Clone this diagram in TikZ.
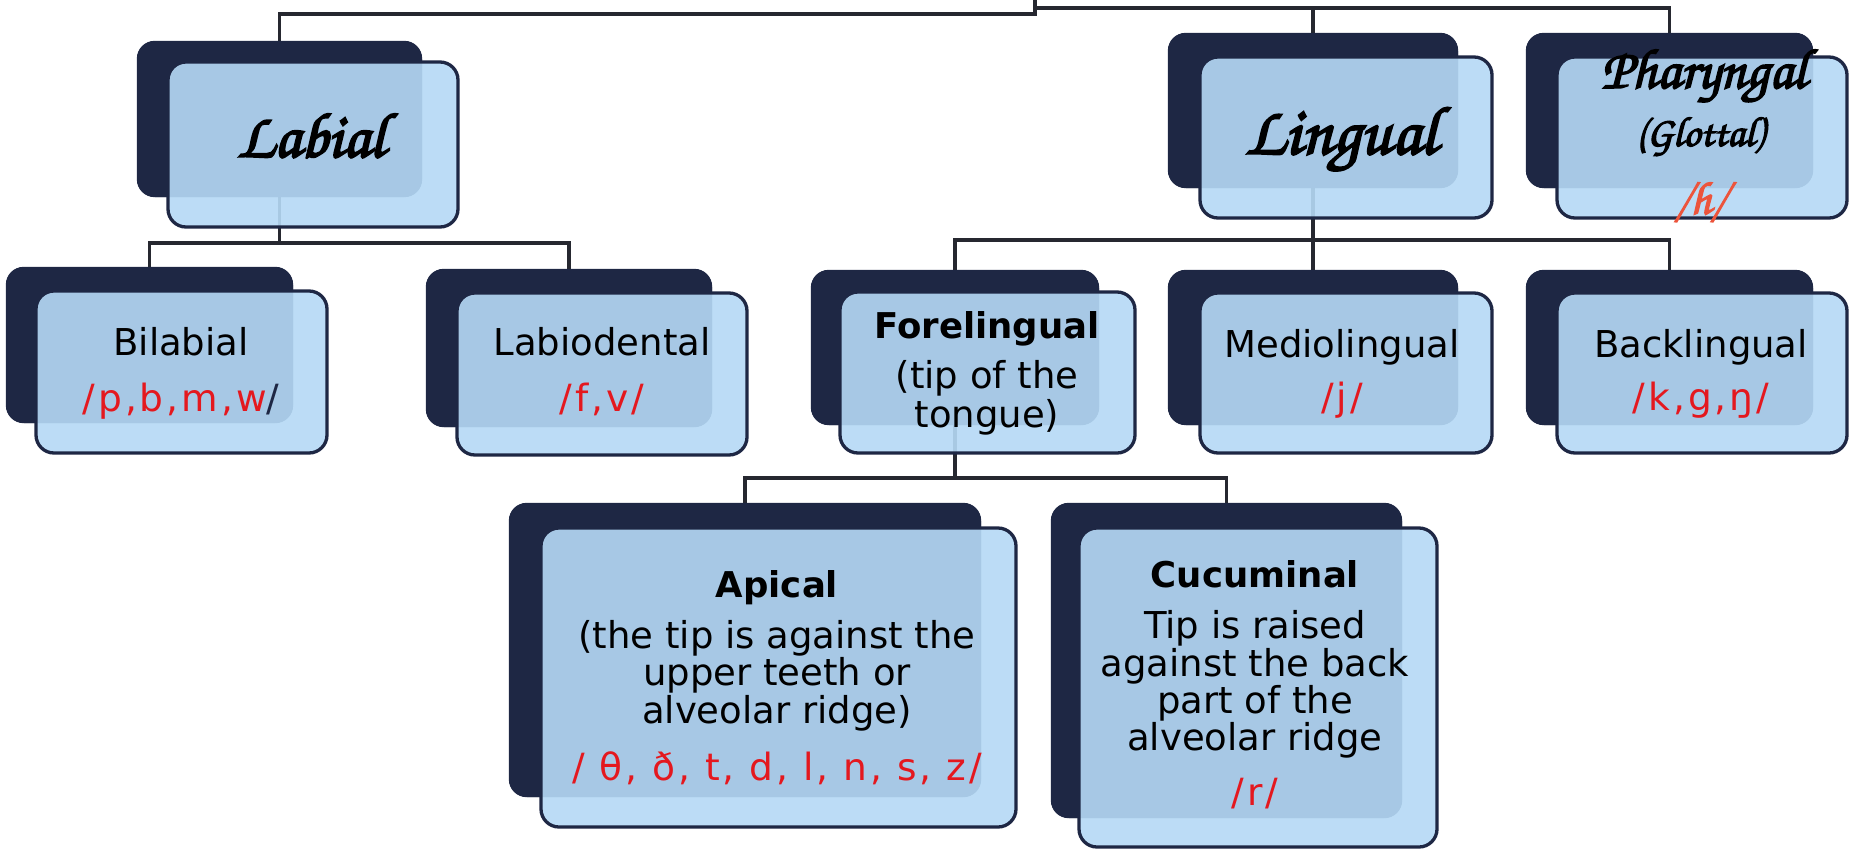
\documentclass[tikz,border=0pt]{standalone}
\usepackage{graphicx}
\usepackage{fontspec}
\setmainfont{DejaVu Sans}
\definecolor{navy}{RGB}{30,39,68}
\definecolor{frontblue}{RGB}{181,217,245}
\definecolor{ipared}{RGB}{228,24,30}
\definecolor{hred}{RGB}{236,84,60}
\definecolor{linecol}{RGB}{38,40,48}
\newcommand{\scriptfam}{\usefont{OT1}{pzc}{mb}{it}\fontsize{48}{56}\selectfont}
\newcommand{\thickscr}[1]{\special{pdf:literal direct 2 Tr 1.4 w}#1\special{pdf:literal direct 0 Tr}}
\begin{document}
\begin{tikzpicture}[x=1pt,y=-1pt,
  backbox/.style={rectangle, rounded corners=18pt, fill=navy, inner sep=0pt},
  frontbox/.style={rectangle, rounded corners=18pt, draw=navy, line width=3.3pt,
    fill=frontblue, fill opacity=0.91, inner sep=0pt},
  conn/.style={draw=linecol, line width=3.3pt},
  txt/.style={anchor=base, inner sep=0pt, font=\fontsize{37}{44}\selectfont},
  btxt/.style={txt, font=\fontsize{35.5}{44}\selectfont\bfseries},
  ipa/.style={txt, text=ipared, font=\fontsize{37.5}{44}\selectfont\addfontfeatures{LetterSpace=8}},
  scr/.style={anchor=base, inner sep=0pt},
]
\useasboundingbox (0,0) rectangle (1863,849);

% ---------- back boxes ----------
\node[backbox, minimum width=285pt, minimum height=156pt] (labB) at (279.5,119) {};
\node[backbox, minimum width=290pt, minimum height=155pt] (linB) at (1313,110.5) {};
\node[backbox, minimum width=287pt, minimum height=155pt] (phaB) at (1669.5,110.5) {};
\node[backbox, minimum width=287pt, minimum height=156pt] (bilB) at (149.5,345) {};
\node[backbox, minimum width=286pt, minimum height=158pt] (ldB) at (569,348) {};
\node[backbox, minimum width=288pt, minimum height=155pt] (flB) at (955,347.5) {};
\node[backbox, minimum width=290pt, minimum height=155pt] (mdB) at (1313,347.5) {};
\node[backbox, minimum width=287pt, minimum height=155pt] (bkB) at (1669.5,347.5) {};
\node[backbox, minimum width=472pt, minimum height=294pt] (apB) at (745,650) {};
\node[backbox, minimum width=351pt, minimum height=315pt] (cuB) at (1226.5,660.5) {};

% ---------- connectors ----------
\coordinate (root) at (1035,0);
\coordinate (rootL) at (1035,14);
\coordinate (rootR) at (1035,8);
\coordinate (labJ) at (279.5,243);
\coordinate (linJ) at (1313,240);
\coordinate (flJ) at (955,478);
\draw[conn] (root) -- (rootL) -| (labB.north);
\draw[conn] (rootR) -| (linB.north);
\draw[conn] (rootR) -| (phaB.north);
\draw[conn] (labB.south) -- (labJ) -| (bilB.north);
\draw[conn] (labJ) -| (ldB.north);
\draw[conn] (linB.south) -- (linJ) -| (flB.north);
\draw[conn] (linJ) -- (mdB.north);
\draw[conn] (linJ) -| (bkB.north);
\draw[conn] (flB.south) -- (flJ) -| (apB.north);
\draw[conn] (flJ) -| (cuB.north);

% back boxes painted again over the connector ends
\fill[navy, rounded corners=18pt] (labB.south west) rectangle (labB.north east);
\fill[navy, rounded corners=18pt] (linB.south west) rectangle (linB.north east);
\fill[navy, rounded corners=18pt] (phaB.south west) rectangle (phaB.north east);
\fill[navy, rounded corners=18pt] (bilB.south west) rectangle (bilB.north east);
\fill[navy, rounded corners=18pt] (ldB.south west) rectangle (ldB.north east);
\fill[navy, rounded corners=18pt] (flB.south west) rectangle (flB.north east);
\fill[navy, rounded corners=18pt] (mdB.south west) rectangle (mdB.north east);
\fill[navy, rounded corners=18pt] (bkB.south west) rectangle (bkB.north east);
\fill[navy, rounded corners=18pt] (apB.south west) rectangle (apB.north east);
\fill[navy, rounded corners=18pt] (cuB.south west) rectangle (cuB.north east);

% ---------- front boxes ----------
\node[frontbox, minimum width=290pt, minimum height=165pt] (labF) at (313,144.5) {};
\node[frontbox, minimum width=292pt, minimum height=161pt] (linF) at (1346,137.5) {};
\node[frontbox, minimum width=290pt, minimum height=161pt] (phaF) at (1702,137.5) {};
\node[frontbox, minimum width=291pt, minimum height=162pt] (bilF) at (181.5,372) {};
\node[frontbox, minimum width=290pt, minimum height=162pt] (ldF) at (602,374) {};
\node[frontbox, minimum width=295pt, minimum height=161pt] (flF) at (987.5,372.5) {};
\node[frontbox, minimum width=292pt, minimum height=160pt] (mdF) at (1346,373) {};
\node[frontbox, minimum width=290pt, minimum height=160pt] (bkF) at (1702,373) {};
\node[frontbox, minimum width=475pt, minimum height=299pt] (apF) at (778.5,677.5) {};
\node[frontbox, minimum width=358pt, minimum height=319pt] (cuF) at (1258,687.5) {};

% ---------- texts ----------
\node[scr] (labT) at (311,157) {\resizebox{148pt}{!}{\scriptfam\thickscr{Labial}}};
\node[scr] (linT) at (1341,154) {\resizebox{192pt}{!}{\scriptfam\thickscr{Lingual}}};
\node[scr] (phaT1) at (1704,88) {\resizebox{205pt}{!}{\scriptfam\thickscr{Pharyngal}}};
\node[scr] (phaT2) at (1700,146) {\resizebox{128pt}{!}{\scriptfam\thickscr{(Glottal)}}};
\node[scr, text=hred] (phaT3) at (1701,214) {\resizebox{52pt}{!}{\scriptfam\thickscr{/h/}}};

\node[txt] (bil1) at (181,355) {Bilabial};
\node[ipa] (bil2) at (181,411) {/p,b,m,w\textcolor{navy}{/}};
\node[txt] (ld1) at (602,355) {Labiodental};
\node[ipa] (ld2) at (602,411) {/f,v/};
\node[btxt] (fl1) at (987,338) {Forelingual};
\node[txt] (fl2) at (987,388) {(tip of the};
\node[txt] (fl3) at (987,427) {tongue)};
\node[txt] (md1) at (1342,357) {Mediolingual};
\node[ipa] (md2) at (1342,410) {/j/};
\node[txt] (bk1) at (1701,357) {Backlingual};
\node[ipa] (bk2) at (1701,410) {/k,g,ŋ/};

\node[btxt] (ap1) at (777,597) {Apical};
\node[txt] (ap2) at (777,648) {(the tip is against the};
\node[txt] (ap3) at (777,685) {upper teeth or};
\node[txt] (ap4) at (777,723) {alveolar ridge)};
\node[ipa] (ap5) at (777,780) {/ θ, ð, t, d, l, n, s, z/};

\node[btxt] (cu1) at (1255,587) {Cucuminal};
\node[txt] (cu2) at (1255,638) {Tip is raised};
\node[txt] (cu3) at (1255,676) {against the back};
\node[txt] (cu4) at (1255,713) {part of the};
\node[txt] (cu5) at (1255,750) {alveolar ridge};
\node[ipa] (cu6) at (1255,805) {/r/};
\end{tikzpicture}
\end{document}
